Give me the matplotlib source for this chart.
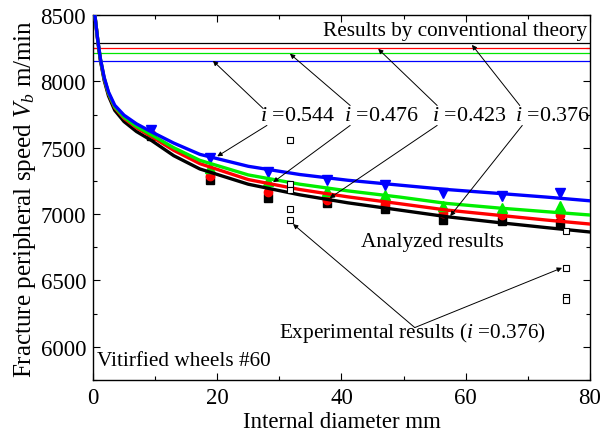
import matplotlib
matplotlib.use("Agg")
import matplotlib.pyplot as plt
from matplotlib.ticker import MultipleLocator

plt.rcParams['font.family'] = ['Liberation Serif', 'DejaVu Serif']
plt.rcParams['mathtext.fontset'] = 'custom'
plt.rcParams['mathtext.rm'] = 'Liberation Serif'
plt.rcParams['mathtext.it'] = 'Liberation Serif:italic'

# ---- data ----
curve_x = [0.3, 0.5, 0.8, 1.2, 1.8, 2.5, 3.5, 5, 7, 9.4, 13, 17.2, 25, 33.3, 41, 49.4, 57, 65.5, 73, 80]
curve_0544 = [8500, 8420, 8300, 8170, 8030, 7920, 7820, 7745, 7680, 7620, 7535, 7450, 7360, 7298, 7255, 7218, 7185, 7155, 7128, 7100]
curve_0476 = [8500, 8420, 8300, 8167, 8024, 7911, 7808, 7730, 7660, 7597, 7500, 7405, 7295, 7225, 7175, 7128, 7080, 7045, 7018, 6993]
curve_0423 = [8500, 8420, 8297, 8164, 8020, 7906, 7802, 7721, 7650, 7585, 7480, 7380, 7260, 7185, 7130, 7078, 7030, 6990, 6955, 6925]
curve_0376 = [8500, 8417, 8292, 8156, 8008, 7890, 7782, 7697, 7622, 7555, 7440, 7340, 7225, 7145, 7085, 7030, 6980, 6935, 6898, 6865]

point_x = [9.4, 18.8, 28.2, 37.6, 47.0, 56.4, 65.8, 75.2]
pts_0544 = [7630, 7420, 7315, 7255, 7218, 7158, 7135, 7158]
pts_0476 = [7610, 7350, 7250, 7175, 7143, 7060, 7045, 7060]
pts_0423 = [7600, 7285, 7165, 7105, 7078, 7005, 6990, 6993]
pts_0376 = [7590, 7255, 7120, 7083, 7038, 6952, 6950, 6933]

conv_theory = {'0.376': 8290, '0.423': 8252, '0.476': 8213, '0.544': 8157}

exp_x = [31.75, 31.75, 31.75, 31.75, 31.75, 76.2, 76.2, 76.2, 76.2]
exp_v = [7555, 7230, 7180, 7040, 6955, 6872, 6595, 6375, 6355]

# ---- figure ----
fig = plt.figure(figsize=(6.03, 4.39), dpi=100)
ax = fig.add_axes([0.1542, 0.1321, 0.8242, 0.8315])

ax.axhline(conv_theory['0.376'], color='black', lw=0.9)
ax.axhline(conv_theory['0.423'], color='red', lw=0.9)
ax.axhline(conv_theory['0.476'], color='#00e600', lw=0.9)
ax.axhline(conv_theory['0.544'], color='blue', lw=0.9)

ax.plot(curve_x, curve_0376, color='black', lw=2.4, zorder=3)
ax.plot(curve_x, curve_0423, color='red', lw=2.4, zorder=3)
ax.plot(curve_x, curve_0476, color='#00ee00', lw=2.4, zorder=3)
ax.plot(curve_x, curve_0544, color='blue', lw=2.4, zorder=3)

ax.plot(point_x, pts_0376, 's', color='black', ms=5.5, zorder=2)
ax.plot(point_x, pts_0423, 'o', color='red', ms=6, zorder=2)
ax.plot(point_x, pts_0476, '^', color='#00ee00', ms=6.5, zorder=2)
ax.plot(point_x, pts_0544, 'v', color='blue', ms=6.5, zorder=2)

ax.plot(exp_x, exp_v, 's', mfc='white', mec='black', mew=0.8, ms=5, zorder=4)

ax.set_xlim(0, 80)
ax.set_ylim(5750, 8500)
ax.xaxis.set_major_locator(MultipleLocator(20))
ax.xaxis.set_minor_locator(MultipleLocator(10))
ax.yaxis.set_major_locator(MultipleLocator(500))
ax.yaxis.set_minor_locator(MultipleLocator(250))
ax.tick_params(which='both', direction='in', top=True, right=True, labelsize=16.5)
ax.tick_params(which='major', length=5, width=0.8, pad=5)
ax.tick_params(which='minor', length=3, width=0.8)
for s in ax.spines.values():
    s.set_linewidth(1.0)

ax.set_xlabel('Internal diameter mm', fontsize=16.5, labelpad=2)
ax.set_ylabel(r'Fracture peripheral speed $V_b$ m/min', fontsize=18, labelpad=2)

fs = 15.3
ax.text(79.5, 8380, 'Results by conventional theory', ha='right', va='center', fontsize=fs)
ax.text(0.6, 5897, 'Vitirfied wheels #60', ha='left', va='center', fontsize=fs)
ax.text(54.7, 6797, 'Analyzed results', ha='center', va='center', fontsize=fs)
ax.text(51.4, 6110, r'Experimental results ($i$ =0.376)', ha='center', va='center', fontsize=fs)

labels = [('0.544', 32.9), ('0.476', 46.5), ('0.423', 60.5), ('0.376', 74.0)]
for lab, xc in labels:
    ax.text(xc, 7742, r'$i$ =' + lab, ha='center', va='center', fontsize=fs + 0.5)

arrow = dict(arrowstyle='-|>', color='black', lw=0.7, mutation_scale=7, shrinkA=0, shrinkB=0)
# (start, end) pairs for annotation arrows
arrows = [
    ((27.4, 7795), (19.3, 8155)),
    ((28.0, 7668), (20.0, 7435)),
    ((41.4, 7818), (31.7, 8208)),
    ((41.4, 7668), (29.0, 7240)),
    ((55.4, 7818), (45.9, 8245)),
    ((55.4, 7668), (38.1, 7120)),
    ((68.7, 7818), (61.0, 8275)),
    ((69.1, 7668), (57.5, 6985)),
    ((51.8, 6145), (32.2, 6925)),
    ((51.8, 6145), (75.5, 6595)),
]
for (x0, y0), (x1, y1) in arrows:
    ax.annotate('', xy=(x1, y1), xytext=(x0, y0), arrowprops=arrow)

fig.savefig('out.png', dpi=100)
